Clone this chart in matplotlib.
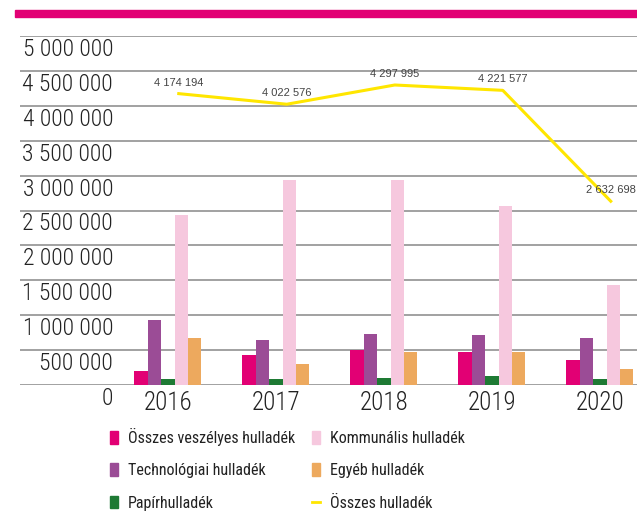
import matplotlib
matplotlib.use('Agg')
import matplotlib.pyplot as plt
from matplotlib.patches import Patch, Rectangle
from matplotlib.lines import Line2D
from matplotlib.transforms import ScaledTranslation
import numpy as np

# Data (kg)
years = ['2016', '2017', '2018', '2019', '2020']
veszelyes = [200000, 430000, 500000, 475000, 360000]
technologiai = [930000, 645000, 730000, 715000, 675000]
papir = [82000, 82000, 100000, 128000, 86000]
kommunalis = [2435000, 2935000, 2935000, 2565000, 1435000]
egyeb = [675000, 300000, 475000, 475000, 230000]
osszes = [4174194, 4022576, 4297995, 4221577, 2632698]
y_ticks = [0, 500000, 1000000, 1500000, 2000000, 2500000,
           3000000, 3500000, 4000000, 4500000, 5000000]

labels = ['Összes veszélyes hulladék', 'Technológiai hulladék', 'Papírhulladék',
          'Kommunális hulladék', 'Egyéb hulladék', 'Összes hulladék']
colors = ['#E20074', '#9B4C96', '#1E7A34', '#F6C8DE', '#EDA95E', '#FFE600']


def fmt(v):
    return f'{v:,}'.replace(',', ' ')


# condensed face if present, plain sans otherwise
plt.rcParams['font.family'] = ['Roboto Condensed', 'Liberation Sans', 'DejaVu Sans']

fig = plt.figure(figsize=(6.37, 5.13), dpi=100)
ax = fig.add_axes([20 / 637, 1 - 385 / 513, 617 / 637, 349 / 513])

x = np.arange(len(years))
w = 0.124
series = [veszelyes, technologiai, papir, kommunalis, egyeb]
for i, vals in enumerate(series):
    ax.bar(x + (i - 2) * w, vals, width=w, color=colors[i], zorder=2)

# total line
lx = x + 0.1
ax.plot(lx, osszes, color=colors[5], lw=2.2, zorder=3)
for xi, v in zip(lx, osszes):
    ax.annotate(fmt(v), (xi, v), xytext=(0, 8), textcoords='offset points',
                ha='center', va='center', fontsize=8, color='#444444',
                family=['Liberation Sans', 'DejaVu Sans'])

ax.set_xlim(-1.37, 4.343)
ax.set_ylim(0, 5000000)
ax.set_yticks(y_ticks)
ax.set_yticklabels([fmt(v) for v in y_ticks], fontweight='light')
ax.set_xticks(x)
ax.set_xticklabels(years, fontweight='light')
ax.grid(axis='y', color='#9a9a9a', lw=1.3, zorder=0)
ax.set_axisbelow(True)
for s in ax.spines.values():
    s.set_visible(False)
ax.tick_params(axis='y', length=0, pad=-67, labelsize=17, labelcolor='#222222')
ax.tick_params(axis='x', length=0, pad=4, labelsize=18, labelcolor='#222222')
off = ScaledTranslation(0, -2 / 100, fig.dpi_scale_trans)
for t in ax.get_yticklabels():
    t.set_verticalalignment('top')
    t.set_transform(t.get_transform() + off)

# header bar
fig.add_artist(Rectangle((15 / 637, 1 - 17 / 513), 622 / 637, 7 / 513,
                         color='#E20074', transform=fig.transFigure))

# legend
handles = [Patch(color=c) for c in colors[:5]]
handles.append(Line2D([0], [0], color=colors[5], lw=2))
fig.legend(handles, labels, ncol=2, loc='upper left',
           bbox_to_anchor=(110 / 637, 1 - 428 / 513), frameon=False,
           handlelength=0.5, handleheight=0.85,
           handletextpad=0.6, columnspacing=1.1, labelspacing=1.08,
           borderpad=0, borderaxespad=0, labelcolor='#222222',
           prop={'size': 11.5})

fig.savefig('out.png', dpi=100)
